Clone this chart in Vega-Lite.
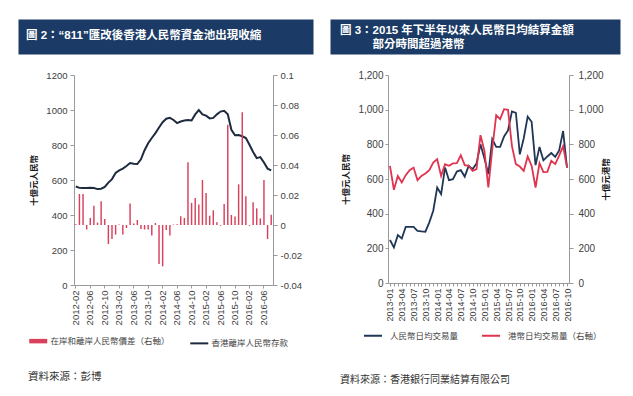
{
  "$schema": "https://vega.github.io/schema/vega-lite/v6.json",
  "background": "white",
  "padding": {"left": 17, "top": 18, "right": 0, "bottom": 0},
  "config": {
    "view": {"stroke": "transparent"},
    "font": "Noto Sans CJK TC",
    "axis": {"grid": false, "domainColor": "#9a9a9a", "tickColor": "#9a9a9a", "labelColor": "#404040", "labelFont": "Liberation Sans", "titleFont": "Noto Sans CJK TC", "titleColor": "#1a1a1a", "titleFontWeight": "bold", "titleFontSize": 8.5}
  },
  "spacing": 15,
  "resolve": {"scale": {"color": "independent"}, "legend": {"color": "independent"}},
  "hconcat": [
    {
      "spacing": 14,
      "resolve": {"scale": {"color": "independent"}, "legend": {"color": "independent"}},
      "vconcat": [
        {
          "width": 295, "height": 35,
          "view": {"fill": "#1b3b66", "stroke": "transparent"},
          "data": {"values": [{"t": "圖 2：“811”匯改後香港人民幣資金池出現收縮"}]},
          "mark": {"type": "text", "align": "left", "baseline": "middle", "color": "white", "fontWeight": "bold", "fontSize": 11.5, "font": "Liberation Sans, Noto Sans CJK TC"},
          "encoding": {"text": {"field": "t"}, "x": {"value": 8}, "y": {"value": 17}}
        },
        {
          "width": 255, "height": 210,
          "title": {"text": "資料來源：彭博", "orient": "bottom", "anchor": "start", "frame": "group", "dx": 10, "offset": 21, "fontSize": 10.5, "fontWeight": "normal", "color": "#333333", "font": "Noto Sans CJK TC"},
          "data": {"values": [
            {"month": "2012-02", "spread": 0.0005, "deposit": 563},
            {"month": "2012-03", "spread": 0.0207, "deposit": 555},
            {"month": "2012-04", "spread": 0.0207, "deposit": 554},
            {"month": "2012-05", "spread": -0.003, "deposit": 554},
            {"month": "2012-06", "spread": 0.0047, "deposit": 556},
            {"month": "2012-07", "spread": 0.0129, "deposit": 554},
            {"month": "2012-08", "spread": 0.0016, "deposit": 548},
            {"month": "2012-09", "spread": 0.0158, "deposit": 550},
            {"month": "2012-10", "spread": 0.004, "deposit": 560},
            {"month": "2012-11", "spread": -0.0127, "deposit": 585},
            {"month": "2012-12", "spread": -0.0093, "deposit": 605},
            {"month": "2013-01", "spread": -0.0064, "deposit": 640},
            {"month": "2013-02", "spread": 0.0003, "deposit": 655},
            {"month": "2013-03", "spread": -0.0064, "deposit": 665},
            {"month": "2013-04", "spread": -0.002, "deposit": 680},
            {"month": "2013-05", "spread": 0.0144, "deposit": 697},
            {"month": "2013-06", "spread": 0.001, "deposit": 693},
            {"month": "2013-07", "spread": 0.0033, "deposit": 691},
            {"month": "2013-08", "spread": -0.0027, "deposit": 718},
            {"month": "2013-09", "spread": -0.003, "deposit": 770},
            {"month": "2013-10", "spread": -0.003, "deposit": 810},
            {"month": "2013-11", "spread": -0.007, "deposit": 840},
            {"month": "2013-12", "spread": 0.0013, "deposit": 868},
            {"month": "2014-01", "spread": -0.026, "deposit": 900},
            {"month": "2014-02", "spread": -0.0276, "deposit": 930},
            {"month": "2014-03", "spread": -0.0033, "deposit": 950},
            {"month": "2014-04", "spread": -0.007, "deposit": 955},
            {"month": "2014-05", "spread": 0.0003, "deposit": 943},
            {"month": "2014-06", "spread": 0.0005, "deposit": 925},
            {"month": "2014-07", "spread": 0.0058, "deposit": 934},
            {"month": "2014-08", "spread": 0.0047, "deposit": 940},
            {"month": "2014-09", "spread": 0.0418, "deposit": 943},
            {"month": "2014-10", "spread": 0.0147, "deposit": 940},
            {"month": "2014-11", "spread": 0.018, "deposit": 975},
            {"month": "2014-12", "spread": 0.0136, "deposit": 1000},
            {"month": "2015-01", "spread": 0.03, "deposit": 975},
            {"month": "2015-02", "spread": 0.0213, "deposit": 968},
            {"month": "2015-03", "spread": 0.0062, "deposit": 952},
            {"month": "2015-04", "spread": 0.0098, "deposit": 955},
            {"month": "2015-05", "spread": 0.0018, "deposit": 975},
            {"month": "2015-06", "spread": -0.0005, "deposit": 991},
            {"month": "2015-07", "spread": 0.014, "deposit": 995},
            {"month": "2015-08", "spread": 0.0669, "deposit": 976},
            {"month": "2015-09", "spread": 0.0067, "deposit": 887},
            {"month": "2015-10", "spread": 0.0056, "deposit": 856},
            {"month": "2015-11", "spread": 0.0271, "deposit": 857},
            {"month": "2015-12", "spread": 0.0751, "deposit": 850},
            {"month": "2016-01", "spread": 0.0191, "deposit": 840},
            {"month": "2016-02", "spread": -0.0005, "deposit": 801},
            {"month": "2016-03", "spread": 0.0151, "deposit": 760},
            {"month": "2016-04", "spread": 0.0111, "deposit": 725},
            {"month": "2016-05", "spread": 0.0044, "deposit": 731},
            {"month": "2016-06", "spread": 0.03, "deposit": 700},
            {"month": "2016-07", "spread": -0.0093, "deposit": 665},
            {"month": "2016-08", "spread": 0.0069, "deposit": 655}
          ]},
          "encoding": {
            "x": {"field": "month", "type": "ordinal", "scale": {"type": "band", "range": [56, 255], "paddingInner": 0.6, "paddingOuter": 0.3},
              "axis": {"title": null, "values": ["2012-02","2012-06","2012-10","2013-02","2013-06","2013-10","2014-02","2014-06","2014-10","2015-02","2015-06","2015-10","2016-02","2016-06"], "bandPosition": 0.5, "labelAngle": 270, "labelFontSize": 9.5, "tickSize": 3, "labelPadding": 2}}
          },
          "layer": [
            {
              "mark": {"type": "line", "strokeWidth": 2},
              "encoding": {
                "y": {"field": "deposit", "type": "quantitative", "scale": {"domain": [0, 1200], "nice": false},
                  "axis": {"orient": "left", "offset": -56, "values": [0,200,400,600,800,1000,1200], "format": "d", "title": "十億元人民幣", "titlePadding": 7, "labelFontSize": 9.5, "tickSize": 4, "labelPadding": 3}},
                "color": {"datum": "香港離岸人民幣存款", "type": "nominal",
                  "scale": {"domain": ["在岸和離岸人民幣價差（右軸）", "香港離岸人民幣存款"], "range": ["#d8405c", "#1e2b3f"]},
                  "legend": {"orient": "none", "legendX": 16, "legendY": 261.5, "direction": "horizontal", "title": null, "symbolType": "stroke", "symbolStrokeWidth": 3, "symbolSize": 324, "labelFontSize": 8.5, "labelColor": "#444444", "labelFont": "Noto Sans CJK TC", "labelOffset": 8, "columnPadding": 16, "padding": 0,
                    "encode": {"symbols": {"update": {"strokeWidth": {"signal": "datum.value === '香港離岸人民幣存款' ? 2 : 4.5"}}}}}}
              }
            },
            {
              "mark": {"type": "bar"},
              "encoding": {
                "y": {"field": "spread", "type": "quantitative", "scale": {"domain": [-0.04, 0.1], "nice": false},
                  "axis": {"orient": "right", "values": [-0.04,-0.02,0,0.02,0.04,0.06,0.08,0.1], "title": null, "labelExpr": "datum.value == 0 ? '0' : (datum.value < 0 ? '-' : '') + format(abs(datum.value), '~f')", "labelFontSize": 9.5, "tickSize": 4, "labelPadding": 3}},
                "color": {"datum": "在岸和離岸人民幣價差（右軸）", "type": "nominal"}
              }
            }
          ],
          "resolve": {"scale": {"y": "independent"}}
        }
      ]
    },
    {
      "spacing": 14,
      "resolve": {"scale": {"color": "independent"}, "legend": {"color": "independent"}},
      "vconcat": [
        {
          "width": 290, "height": 35,
          "view": {"fill": "#1b3b66", "stroke": "transparent"},
          "data": {"values": [{"t": "圖 3：2015 年下半年以來人民幣日均結算金額\n\u200b　　\u00a0\u00a0\u00a0部分時間超過港幣"}]},
          "mark": {"type": "text", "align": "left", "baseline": "middle", "color": "white", "fontWeight": "bold", "fontSize": 11.5, "lineBreak": "\n", "lineHeight": 13.5, "font": "Liberation Sans, Noto Sans CJK TC"},
          "encoding": {"text": {"field": "t"}, "x": {"value": 10}, "y": {"value": 12}}
        },
        {
          "width": 239, "height": 208,
          "title": {"text": "資料來源：香港銀行同業結算有限公司", "orient": "bottom", "anchor": "start", "frame": "group", "dx": 10, "offset": 34, "fontSize": 10, "fontWeight": "normal", "color": "#333333", "font": "Noto Sans CJK TC"},
          "data": {"values": [
            {"month": "2013-01", "rmb": 248, "hkd": 676},
            {"month": "2013-02", "rmb": 205, "hkd": 538},
            {"month": "2013-03", "rmb": 276, "hkd": 618},
            {"month": "2013-04", "rmb": 257, "hkd": 580},
            {"month": "2013-05", "rmb": 324, "hkd": 622},
            {"month": "2013-06", "rmb": 324, "hkd": 651},
            {"month": "2013-07", "rmb": 324, "hkd": 666},
            {"month": "2013-08", "rmb": 301, "hkd": 593},
            {"month": "2013-09", "rmb": 298, "hkd": 618},
            {"month": "2013-10", "rmb": 296, "hkd": 632},
            {"month": "2013-11", "rmb": 350, "hkd": 651},
            {"month": "2013-12", "rmb": 417, "hkd": 695},
            {"month": "2014-01", "rmb": 551, "hkd": 714},
            {"month": "2014-02", "rmb": 513, "hkd": 618},
            {"month": "2014-03", "rmb": 666, "hkd": 685},
            {"month": "2014-04", "rmb": 593, "hkd": 676},
            {"month": "2014-05", "rmb": 599, "hkd": 690},
            {"month": "2014-06", "rmb": 643, "hkd": 691},
            {"month": "2014-07", "rmb": 651, "hkd": 737},
            {"month": "2014-08", "rmb": 614, "hkd": 680},
            {"month": "2014-09", "rmb": 676, "hkd": 676},
            {"month": "2014-10", "rmb": 657, "hkd": 647},
            {"month": "2014-11", "rmb": 690, "hkd": 657},
            {"month": "2014-12", "rmb": 800, "hkd": 853},
            {"month": "2015-01", "rmb": 720, "hkd": 763},
            {"month": "2015-02", "rmb": 628, "hkd": 551},
            {"month": "2015-03", "rmb": 830, "hkd": 772},
            {"month": "2015-04", "rmb": 785, "hkd": 968},
            {"month": "2015-05", "rmb": 785, "hkd": 945},
            {"month": "2015-06", "rmb": 845, "hkd": 1003},
            {"month": "2015-07", "rmb": 880, "hkd": 999},
            {"month": "2015-08", "rmb": 990, "hkd": 790},
            {"month": "2015-09", "rmb": 982, "hkd": 686},
            {"month": "2015-10", "rmb": 742, "hkd": 672},
            {"month": "2015-11", "rmb": 835, "hkd": 647},
            {"month": "2015-12", "rmb": 960, "hkd": 730},
            {"month": "2016-01", "rmb": 930, "hkd": 676},
            {"month": "2016-02", "rmb": 680, "hkd": 551},
            {"month": "2016-03", "rmb": 785, "hkd": 692},
            {"month": "2016-04", "rmb": 708, "hkd": 640},
            {"month": "2016-05", "rmb": 730, "hkd": 641},
            {"month": "2016-06", "rmb": 750, "hkd": 705},
            {"month": "2016-07", "rmb": 728, "hkd": 686},
            {"month": "2016-08", "rmb": 765, "hkd": 735},
            {"month": "2016-09", "rmb": 877, "hkd": 790},
            {"month": "2016-10", "rmb": 665, "hkd": 667}
          ]},
          "encoding": {
            "x": {"field": "month", "type": "ordinal", "scale": {"type": "point", "range": [58, 239], "padding": 0.5},
              "axis": {"title": null, "labelExpr": "indexof(['01','04','07','10'], substring(datum.value, 5, 7)) >= 0 ? datum.value : ''", "labelAngle": 270, "labelFontSize": 9, "tickSize": 3, "labelPadding": 2}}
          },
          "layer": [
            {
              "mark": {"type": "line", "strokeWidth": 1.8},
              "encoding": {
                "y": {"field": "rmb", "type": "quantitative", "scale": {"domain": [0, 1200], "nice": false},
                  "axis": {"orient": "left", "offset": -58, "values": [0,200,400,600,800,1000,1200], "format": ",d", "title": "十億元人民幣", "titlePadding": 7, "labelFontSize": 10, "tickSize": 3, "labelPadding": 2}},
                "color": {"datum": "人民幣日均交易量", "type": "nominal",
                  "scale": {"domain": ["人民幣日均交易量", "港幣日均交易量（右軸）"], "range": ["#1f3656", "#e0344f"]},
                  "legend": {"orient": "none", "legendX": 33, "legendY": 250.5, "direction": "horizontal", "title": null, "symbolType": "stroke", "symbolStrokeWidth": 2, "symbolSize": 324, "labelFontSize": 8.5, "labelColor": "#444444", "labelFont": "Noto Sans CJK TC", "labelOffset": 7, "columnPadding": 19, "padding": 0}}
              }
            },
            {
              "mark": {"type": "line", "strokeWidth": 1.8},
              "encoding": {
                "y": {"field": "hkd", "type": "quantitative", "scale": {"domain": [0, 1200], "nice": false},
                  "axis": {"orient": "right", "values": [0,200,400,600,800,1000,1200], "format": ",d", "title": "十億元港幣", "titleAngle": 270, "titlePadding": 7, "labelFontSize": 10, "tickSize": 4, "labelPadding": 5}},
                "color": {"datum": "港幣日均交易量（右軸）", "type": "nominal"}
              }
            }
          ],
          "resolve": {"scale": {"y": "independent"}}
        }
      ]
    }
  ]
}
